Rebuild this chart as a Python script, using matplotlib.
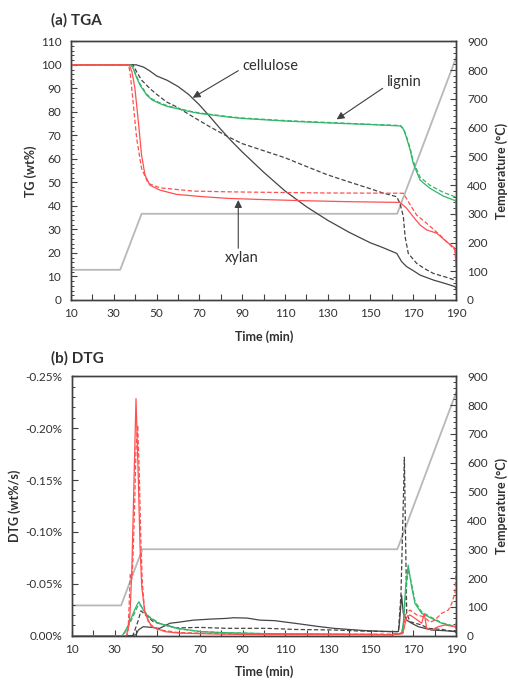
import numpy as np
import matplotlib
matplotlib.use("Agg")
import matplotlib.pyplot as plt
from matplotlib.ticker import FixedLocator, MultipleLocator, FuncFormatter

plt.rcParams['font.family'] = ['Lato', 'DejaVu Sans']

# ---------------- data ----------------
# temperature programme (min, degC)
temp_t = [10, 33, 43, 162.5, 190]
temp_v = [105, 105, 300, 300, 842]

# TGA (wt%)
cel_tg_t = [10, 40.5, 44, 47, 50, 55, 60, 65, 70, 75, 80, 85, 90, 100, 110, 120, 130, 140, 150,
            155.5, 162.3, 164.6, 166.9, 170, 173.2, 179.4, 185, 189.5, 190]
cel_tg = [100, 100, 99, 97.3, 95.3, 93.4, 90.8, 87.4, 83.0, 77.9, 72.6, 67.6, 63.0, 54.4, 46.4, 39.7,
          33.9, 28.8, 24.3, 22.4, 19.8, 16.3, 14.2, 12.5, 10.6, 8.5, 7, 5.7, 5.0]
cel_tg_d_t = [10, 39, 40.7, 43, 46.9, 50, 54.7, 59.4, 67.2, 75, 83.5, 90, 100, 110, 120, 130, 140, 150,
              155.5, 162.3, 163.8, 165.4, 166.2, 167.7, 171.6, 175, 179.4, 185, 189.5, 190]
cel_tg_d = [100, 100, 97, 93.5, 89.9, 87.5, 84.2, 82.1, 77.8, 73.6, 69.4, 66.5, 63.5, 60.5, 56.8, 53.2,
            50.2, 47.3, 45.6, 43.9, 41.1, 35.4, 26.9, 19.8, 15.6, 13.5, 11.3, 9.8, 8.5, 8.0]
lig_tg_t = [10, 38, 39.1, 40.5, 42.3, 45.4, 48, 51.6, 55, 59.4, 65, 70.3, 83.5, 90, 110, 130, 150, 164,
            165.5, 166.5, 168.5, 170, 173.2, 177.8, 184, 189.5, 190, 190]
lig_tg = [100, 100, 98.4, 95, 91.3, 87.1, 85, 83.5, 82.3, 81.4, 80.2, 79.3, 77.8, 77.2, 76.1, 75.3, 74.6,
          74.0, 72.5, 70, 64, 58.1, 51, 47.5, 44.2, 42.3, 41.8, 36]
lig_tg_d = [100, 100, 98.6, 95.5, 91.8, 87.5, 85.4, 83.8, 82.6, 81.6, 80.4, 79.5, 78.0, 77.4, 76.3, 75.5,
            74.7, 74.2, 72.8, 70.5, 64.8, 59, 52.2, 48.8, 45.8, 43.9, 43.5, 40]
xyl_tg_t = [10, 37.2, 38.5, 39.9, 41.5, 43.0, 44.6, 46.9, 51.6, 59.4, 71.9, 83.5, 100, 120, 140, 163.8,
            166.9, 170, 173.2, 176.3, 181, 185.6, 189.5, 190]
xyl_tg = [100, 100, 97, 89.9, 75.7, 61.6, 53.1, 48.8, 46.7, 44.9, 43.9, 43.2, 42.7, 42.2, 41.8, 41.5,
          39, 35.4, 31.9, 29.8, 28.4, 24.8, 22, 14.2]
xyl_tg_d_t = [10, 36.8, 37.6, 38.4, 40.7, 43.0, 46.1, 51.6, 67.2, 83.5, 100, 130, 165.4, 167.7, 171.6,
              176.3, 182.5, 189.5, 190]
xyl_tg_d = [100, 100, 97, 89.9, 68.7, 55.9, 49.6, 47.7, 46.3, 46.0, 45.8, 45.5, 45.4, 41.8, 36.1,
            32.6, 27.6, 21.3, 16]

# DTG (wt%/s)
cel_dtg_t = [10, 38, 40, 41.1, 43.4, 47.3, 51, 55.9, 60, 66.9, 75, 82.5, 85.6, 92, 98.1, 105, 116.9, 125,
             132.7, 140, 148.1, 160.6, 163, 163.5, 164.5, 165.3, 166.9, 169.2, 172.3, 175.4, 178.5, 184.8, 190]
cel_dtg = [0, 0, -0.001, -0.0055, -0.0087, -0.008, -0.007, -0.012, -0.013, -0.015, -0.016, -0.0167,
           -0.0173, -0.017, -0.015, -0.0145, -0.0113, -0.009, -0.0071, -0.006, -0.0048, -0.0039, -0.004,
           -0.012, -0.039, -0.0216, -0.015, -0.012, -0.0087, -0.0071, -0.0055, -0.0048, -0.0039]
cel_dtg_d_t = [10, 38.5, 39.5, 41.1, 42.3, 45, 48.1, 52, 59.1, 70, 82.5, 101.4, 115, 132.7, 145, 156, 163,
               164.2, 165.2, 165.8, 166.4, 166.9, 168.4, 173.9, 177, 183.5, 189.5, 190]
cel_dtg_d = [0, 0, -0.0055, -0.015, -0.024, -0.019, -0.0135, -0.011, -0.0075, -0.008, -0.0071, -0.0071,
             -0.006, -0.0055, -0.0045, -0.004, -0.004, -0.04, -0.12, -0.172, -0.09, -0.0216, -0.0135,
             -0.0103, -0.0071, -0.006, -0.0039, -0.003]
lig_dtg_t = [10, 33.5, 34.8, 36.4, 38.7, 40.5, 41.4, 42.3, 43.4, 45.8, 50.5, 53.6, 60, 70, 80, 100, 130,
             160, 164.5, 165.3, 166.4, 167.6, 169.2, 170.8, 173.9, 178.6, 183.3, 189.5, 190]
lig_dtg = [0, 0, -0.004, -0.0103, -0.0216, -0.03, -0.0327, -0.029, -0.0247, -0.0183, -0.012, -0.0103,
           -0.007, -0.004, -0.003, -0.002, -0.0015, -0.001, -0.002, -0.012, -0.047, -0.068, -0.047, -0.031,
           -0.0216, -0.0167, -0.012, -0.0087, -0.007]
lig_dtg_d = [0, 0, -0.003, -0.009, -0.019, -0.027, -0.030, -0.029, -0.025, -0.019, -0.0125, -0.010,
             -0.0065, -0.004, -0.003, -0.002, -0.0015, -0.001, -0.002, -0.010, -0.040, -0.064, -0.050,
             -0.033, -0.023, -0.0175, -0.0125, -0.009, -0.0075]
xyl_dtg_t = [10, 35.5, 36.5, 37.2, 38.0, 38.7, 40.0, 41.1, 41.9, 42.7, 44.2, 47.3, 53.6, 60, 80, 100, 120,
             140, 160, 165, 166.9, 168.4, 170.8, 173.9, 175.1, 176.3, 178.6, 181.7, 184.8, 189.5, 190]
xyl_dtg = [0, 0, -0.0087, -0.0216, -0.06, -0.118, -0.2285, -0.15, -0.0857, -0.047, -0.0216, -0.0087,
           -0.0039, -0.0025, -0.0015, -0.001, -0.001, -0.001, -0.001, -0.002, -0.018, -0.020, -0.0167,
           -0.012, -0.021, -0.0071, -0.0055, -0.0087, -0.0103, -0.0087, -0.012]
xyl_dtg_d_t = [10, 35.8, 36.3, 36.8, 37.3, 38.0, 38.5, 39.3, 40.0, 40.8, 41.5, 42.3, 43.0, 44.0, 46.0, 50,
               60, 80, 100, 120, 140, 160, 165.3, 166.1, 168.4, 171.6, 174.8, 177.9, 180, 183.3, 186.4,
               188, 189.5, 190]
xyl_dtg_d = [0, 0, -0.005, -0.03, -0.06, -0.055, -0.07, -0.12, -0.18, -0.203, -0.16, -0.09, -0.05,
             -0.025, -0.012, -0.006, -0.003, -0.002, -0.0015, -0.0015, -0.0015, -0.0015, -0.003, -0.02,
             -0.0247, -0.020, -0.0183, -0.013, -0.015, -0.0216, -0.0247, -0.031, -0.041, -0.063]

x_ticks = [10, 30, 50, 70, 90, 110, 130, 150, 170, 190]
tg_ticks = [0, 10, 20, 30, 40, 50, 60, 70, 80, 90, 100, 110]
dtg_ticks = [0, -0.05, -0.10, -0.15, -0.20, -0.25]
temp_ticks = [0, 100, 200, 300, 400, 500, 600, 700, 800, 900]

# ---------------- style ----------------
RED = '#ff5050'
GREEN = '#33b56a'
BLACK = '#454545'
GREY = '#b8b8b8'
TXT = '#303030'
lw = 0.9
dash = (3.5, 1.8)

W, H = 508, 680
fig = plt.figure(figsize=(W / 100, H / 100), dpi=100)


def px_axes(l, t, r, b):
    return fig.add_axes([l / W, 1 - b / H, (r - l) / W, (b - t) / H])


def style(ax, tw):
    for a in (ax, tw):
        for s in a.spines.values():
            s.set_color('#404040')
            s.set_linewidth(1.0)
    ax.set_xlim(10, 190)
    ax.xaxis.set_major_locator(FixedLocator(x_ticks))
    ax.xaxis.set_minor_locator(FixedLocator(np.arange(20, 190, 20)))
    ax.tick_params(axis='x', which='both', direction='in', length=4, width=0.8, color='#404040',
                   labelsize=8.5, labelcolor=TXT, pad=6)
    ax.tick_params(axis='y', which='major', direction='in', length=4, width=0.8, color='#404040',
                   labelsize=8.5, labelcolor=TXT, pad=7)
    ax.tick_params(axis='y', which='minor', direction='in', length=2.5, width=0.7, color='#404040')
    tw.set_ylim(0, 900)
    tw.yaxis.set_major_locator(FixedLocator(temp_ticks))
    tw.yaxis.set_minor_locator(MultipleLocator(20))
    tw.tick_params(axis='y', which='major', direction='in', length=4, width=0.8, color='#404040',
                   labelsize=8.5, labelcolor=TXT, pad=8)
    tw.tick_params(axis='y', which='minor', direction='in', length=2.5, width=0.7, color='#404040')
    tw.plot(temp_t, temp_v, color=GREY, lw=1.3, zorder=1)


# ---------------- (a) TGA ----------------
ax1 = px_axes(71, 41.3, 456, 300)
tw1 = ax1.twinx()
style(ax1, tw1)
ax1.set_ylim(0, 110)
ax1.yaxis.set_major_locator(FixedLocator(tg_ticks))
ax1.yaxis.set_minor_locator(MultipleLocator(2))
ax1.set_zorder(tw1.get_zorder() + 1)
ax1.patch.set_visible(False)

ax1.plot(cel_tg_t, cel_tg, color=BLACK, lw=lw)
ax1.plot(cel_tg_d_t, cel_tg_d, color=BLACK, lw=lw, dashes=dash)
ax1.plot(lig_tg_t, lig_tg, color=GREEN, lw=lw)
ax1.plot(lig_tg_t, lig_tg_d, color=GREEN, lw=lw, dashes=dash)
ax1.plot(xyl_tg_t, xyl_tg, color=RED, lw=lw)
ax1.plot(xyl_tg_d_t, xyl_tg_d, color=RED, lw=lw, dashes=dash)

arrow = dict(arrowstyle='-|>', color='#404040', lw=0.8, mutation_scale=11, shrinkA=0, shrinkB=0)
ax1.annotate('', xy=(66.9, 86.0), xytext=(88.2, 97.5), arrowprops=arrow)
ax1.text(103.2, 99.5, 'cellulose', ha='center', va='center', fontsize=10.5, color=TXT)
ax1.annotate('', xy=(134.2, 76.8), xytext=(155.7, 90.0), arrowprops=arrow)
ax1.text(165.8, 92.8, 'lignin', ha='center', va='center', fontsize=10.5, color=TXT)
ax1.annotate('', xy=(88.2, 42.5), xytext=(88.2, 22.0), arrowprops=arrow)
ax1.text(89.8, 18.0, 'xylan', ha='center', va='center', fontsize=10.5, color=TXT)

# ---------------- (b) DTG ----------------
ax2 = px_axes(72, 376.3, 456, 635.7)
tw2 = ax2.twinx()
style(ax2, tw2)
ax2.set_ylim(0, -0.25)
ax2.yaxis.set_major_locator(FixedLocator(dtg_ticks))
ax2.yaxis.set_minor_locator(MultipleLocator(0.01))
ax2.yaxis.set_major_formatter(FuncFormatter(lambda v, p: '0.00%' if abs(v) < 1e-9 else f'{v:.2f}%'))
ax2.set_zorder(tw2.get_zorder() + 1)
ax2.patch.set_visible(False)

ax2.plot(cel_dtg_t, cel_dtg, color=BLACK, lw=lw)
ax2.plot(cel_dtg_d_t, cel_dtg_d, color=BLACK, lw=lw, dashes=dash)
ax2.plot(lig_dtg_t, lig_dtg, color=GREEN, lw=lw)
ax2.plot(lig_dtg_t, lig_dtg_d, color=GREEN, lw=lw, dashes=dash)
ax2.plot(xyl_dtg_t, xyl_dtg, color=RED, lw=lw)
ax2.plot(xyl_dtg_d_t, xyl_dtg_d, color=RED, lw=lw, dashes=dash)

# ---------------- labels ----------------
fig.text(50.7 / W, 1 - 20.7 / H, '(a) TGA', ha='left', va='center', fontsize=11, fontweight='bold', color=TXT)
fig.text(50.7 / W, 1 - 358.3 / H, '(b) DTG', ha='left', va='center', fontsize=11, fontweight='bold', color=TXT)
fig.text(30.7 / W, 1 - 170.8 / H, 'TG (wt%)', rotation=90, ha='center', va='center', fontsize=9,
         fontweight='bold', color=TXT)
fig.text(15 / W, 1 - 505.8 / H, 'DTG (wt%/s)', rotation=90, ha='center', va='center', fontsize=9,
         fontweight='bold', color=TXT)
fig.text(502 / W, 1 - 170.8 / H, 'Temperature (°C)', rotation=90, ha='center', va='center', fontsize=9,
         fontweight='bold', color=TXT)
fig.text(502 / W, 1 - 505.8 / H, 'Temperature (°C)', rotation=90, ha='center', va='center', fontsize=9,
         fontweight='bold', color=TXT)
fig.text(264 / W, 1 - 336.7 / H, 'Time (min)', ha='center', va='center', fontsize=9,
         fontweight='bold', color=TXT)
fig.text(264 / W, 1 - 671.7 / H, 'Time (min)', ha='center', va='center', fontsize=9,
         fontweight='bold', color=TXT)

fig.savefig('out.png', dpi=100)
